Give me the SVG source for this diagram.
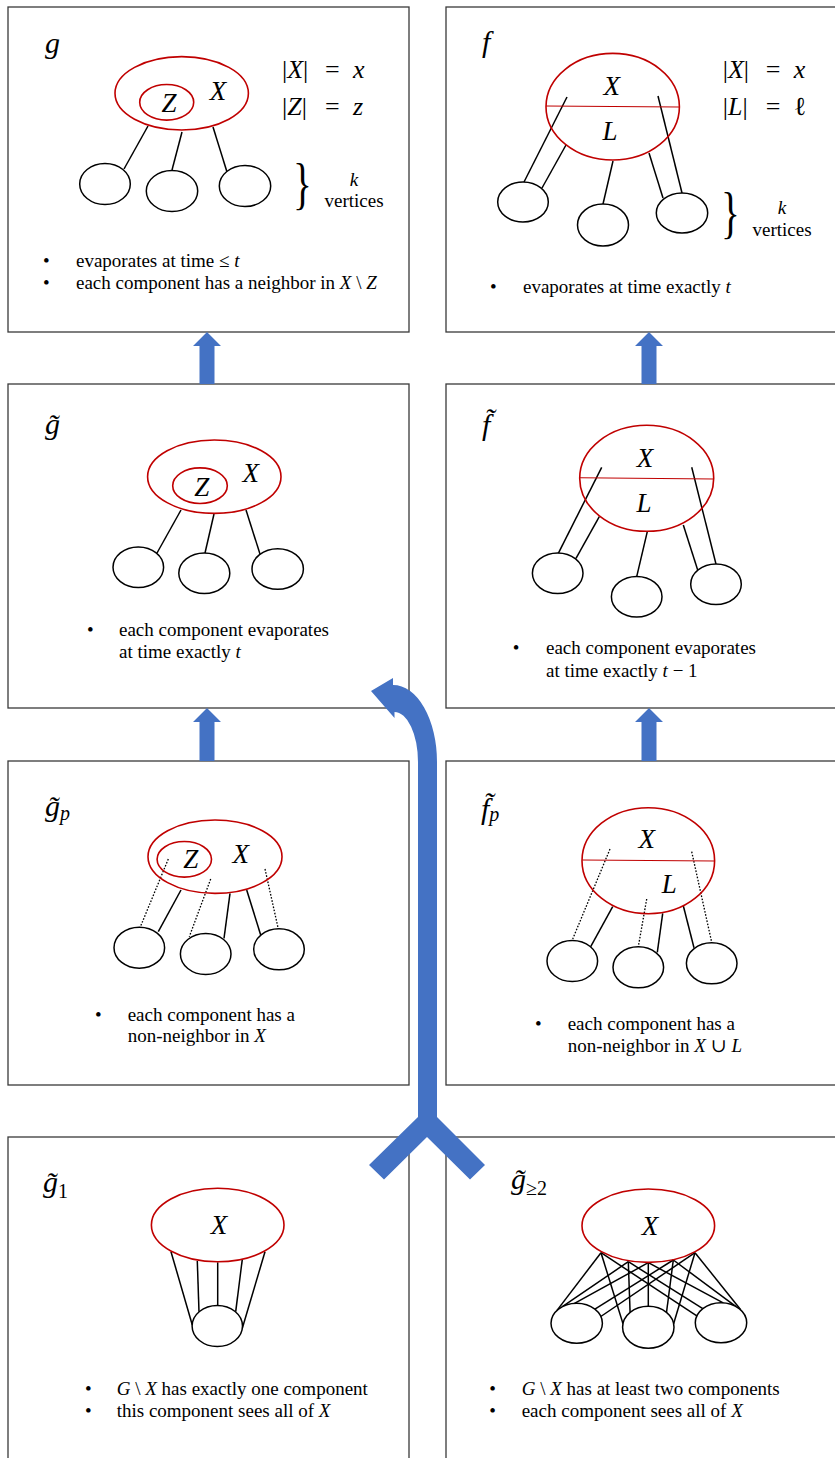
<svg xmlns="http://www.w3.org/2000/svg" width="835" height="1458" viewBox="0 0 835 1458">
<style>
.panel{fill:#fff;stroke:#3a3a3a;stroke-width:1.3}
.red{fill:none;stroke:#C00000;stroke-width:1.6}
.split{stroke:#C00000;stroke-width:1.1}
.comp{fill:#fff;stroke:#000;stroke-width:1.5}
.edge{stroke:#000;stroke-width:1.5;fill:none}
.dot{stroke:#000;stroke-width:1.3;stroke-dasharray:1.6 1.6;fill:none}
.m{font-family:"Liberation Serif","DejaVu Serif",serif;font-style:italic;font-size:27px;fill:#000}
.lab{font-family:"Liberation Serif","DejaVu Serif",serif;font-style:italic;font-size:30px;fill:#000}
.eq{font-family:"Liberation Serif","DejaVu Serif",serif;font-size:26px;fill:#000}
.b{font-family:"Liberation Serif","DejaVu Serif",serif;font-size:19px;fill:#000}
.i{font-style:italic}
.up{font-style:normal}
.sub{font-family:"Liberation Serif","DejaVu Serif",serif;font-size:20px;fill:#000}
.brace{font-family:"Liberation Serif","DejaVu Serif",serif;font-size:56px;fill:#000}
.arrow{fill:#4472C4}
</style>

<g id="panel-g">
<rect class="panel" x="8" y="7" width="401" height="325"/>
<text class="lab" x="45" y="53">g</text>
<line class="edge" x1="148" y1="126" x2="124" y2="169"/>
<line class="edge" x1="182" y1="132" x2="172" y2="170"/>
<line class="edge" x1="213" y1="127" x2="227" y2="172"/>
<ellipse class="red" cx="181.7" cy="93.3" rx="66.7" ry="36.7"/>
<ellipse class="red" cx="166.7" cy="102.3" rx="27" ry="17.8"/>
<text class="m" x="169" y="112" text-anchor="middle">Z</text>
<text class="m" x="218" y="100" text-anchor="middle">X</text>
<ellipse class="comp" cx="105" cy="184" rx="25.3" ry="20.5"/>
<ellipse class="comp" cx="172" cy="191" rx="25.7" ry="20.5"/>
<ellipse class="comp" cx="245" cy="186" rx="25.7" ry="20.5"/>
<text class="eq" y="78"><tspan x="282">|</tspan><tspan class="i">X</tspan><tspan>|</tspan><tspan x="325">=</tspan><tspan x="353" class="i">x</tspan></text>
<text class="eq" y="115"><tspan x="282">|</tspan><tspan class="i">Z</tspan><tspan>|</tspan><tspan x="325">=</tspan><tspan x="353" class="i">z</tspan></text>
<text class="brace" transform="translate(293,203) scale(0.7,1)">}</text>
<text class="b i" x="354" y="186" text-anchor="middle" font-size="18">k</text>
<text class="b" x="354" y="207" text-anchor="middle">vertices</text>
<text class="b" x="43" y="267">•</text>
<text class="b" x="76" y="267">evaporates at time ≤ <tspan class="i">t</tspan></text>
<text class="b" x="43" y="289">•</text>
<text class="b" x="76" y="289">each component has a neighbor in <tspan class="i">X</tspan> \ <tspan class="i">Z</tspan></text>
</g>

<g id="panel-f">
<rect class="panel" x="446" y="7" width="400" height="325"/>
<text class="lab" x="482" y="52">f</text>
<line class="edge" x1="567" y1="97" x2="524" y2="182"/>
<line class="edge" x1="566" y1="145" x2="542" y2="188"/>
<line class="edge" x1="613" y1="161" x2="603" y2="204"/>
<line class="edge" x1="658" y1="96" x2="682" y2="193"/>
<line class="edge" x1="649" y1="153" x2="663" y2="198"/>
<ellipse class="red" cx="612.7" cy="106.7" rx="66.7" ry="53.3"/>
<line class="split" x1="546" y1="106" x2="679" y2="107"/>
<text class="m" x="611.7" y="95" text-anchor="middle">X</text>
<text class="m" x="610" y="140" text-anchor="middle">L</text>
<ellipse class="comp" cx="523" cy="202" rx="25.3" ry="20"/>
<ellipse class="comp" cx="603" cy="225" rx="25.5" ry="21"/>
<ellipse class="comp" cx="682" cy="213" rx="25.7" ry="20"/>
<text class="eq" y="78"><tspan x="722.7">|</tspan><tspan class="i">X</tspan><tspan>|</tspan><tspan x="765.7">=</tspan><tspan x="793.7" class="i">x</tspan></text>
<text class="eq" y="115"><tspan x="722.7">|</tspan><tspan class="i">L</tspan><tspan>|</tspan><tspan x="765.7">=</tspan><tspan x="793.7">ℓ</tspan></text>
<text class="brace" transform="translate(721,232) scale(0.7,1)">}</text>
<text class="b i" x="782" y="214" text-anchor="middle" font-size="18">k</text>
<text class="b" x="782" y="236" text-anchor="middle">vertices</text>
<text class="b" x="490" y="293">•</text>
<text class="b" x="523" y="293">evaporates at time exactly <tspan class="i">t</tspan></text>
</g>

<g id="panel-g-tilde">
<rect class="panel" x="8" y="384" width="401" height="324"/>
<text class="lab" x="45" y="434">g̃</text>
<line class="edge" x1="181" y1="510" x2="157" y2="553"/>
<line class="edge" x1="214" y1="514" x2="205" y2="553"/>
<line class="edge" x1="246" y1="510" x2="260" y2="554"/>
<ellipse class="red" cx="214.3" cy="476.7" rx="66.7" ry="36.7"/>
<ellipse class="red" cx="200" cy="485.7" rx="27.3" ry="17.8"/>
<text class="m" x="201.7" y="496" text-anchor="middle">Z</text>
<text class="m" x="250.7" y="481.7" text-anchor="middle">X</text>
<ellipse class="comp" cx="138.3" cy="567.3" rx="25.3" ry="20.3"/>
<ellipse class="comp" cx="204.3" cy="573.3" rx="25.5" ry="20.3"/>
<ellipse class="comp" cx="277.7" cy="569" rx="25.7" ry="20.3"/>
<text class="b" x="87" y="636">•</text>
<text class="b" x="119" y="636">each component evaporates</text>
<text class="b" x="119" y="657.7">at time exactly <tspan class="i">t</tspan></text>
</g>

<g id="panel-f-tilde">
<rect class="panel" x="446" y="384" width="400" height="324"/>
<text class="lab" x="482" y="435">f̃</text>
<line class="edge" x1="601.7" y1="467.3" x2="558.3" y2="553.3"/>
<line class="edge" x1="599.3" y1="516.7" x2="576" y2="558.3"/>
<line class="edge" x1="647.3" y1="531.7" x2="636.7" y2="576.7"/>
<line class="edge" x1="691.7" y1="467.3" x2="716" y2="564"/>
<line class="edge" x1="683.3" y1="525" x2="697.7" y2="570"/>
<ellipse class="red" cx="646.7" cy="478.3" rx="67" ry="53"/>
<line class="split" x1="580" y1="477.7" x2="714" y2="479"/>
<text class="m" x="645" y="466.7" text-anchor="middle">X</text>
<text class="m" x="644" y="511.7" text-anchor="middle">L</text>
<ellipse class="comp" cx="557.7" cy="573.3" rx="25.3" ry="20.3"/>
<ellipse class="comp" cx="636.7" cy="596.7" rx="25.3" ry="20.3"/>
<ellipse class="comp" cx="716" cy="584.3" rx="25.3" ry="20.3"/>
<text class="b" x="512.7" y="654.3">•</text>
<text class="b" x="546" y="654.3">each component evaporates</text>
<text class="b" x="546" y="676.7">at time exactly <tspan class="i">t</tspan> − 1</text>
</g>

<g id="panel-g-p">
<rect class="panel" x="8" y="761" width="401" height="324"/>
<text class="lab" x="45" y="816">g̃<tspan class="sub i" dy="4">p</tspan></text>
<line class="dot" x1="168.3" y1="859" x2="140" y2="927.7"/>
<line class="dot" x1="210.7" y1="879" x2="189.3" y2="936.7"/>
<line class="dot" x1="265" y1="869" x2="278.3" y2="929"/>
<line class="edge" x1="181" y1="890" x2="158.3" y2="931.7"/>
<line class="edge" x1="230" y1="893.3" x2="224" y2="938.3"/>
<line class="edge" x1="246.7" y1="890" x2="260.7" y2="935"/>
<ellipse class="red" cx="215" cy="856.7" rx="67" ry="36.7"/>
<ellipse class="red" cx="184.3" cy="859.3" rx="27.2" ry="17.8"/>
<text class="m" x="190.7" y="868.3" text-anchor="middle">Z</text>
<text class="m" x="240.7" y="863.3" text-anchor="middle">X</text>
<ellipse class="comp" cx="139.3" cy="947.7" rx="25.3" ry="20.5"/>
<ellipse class="comp" cx="205.7" cy="954" rx="25.3" ry="20.5"/>
<ellipse class="comp" cx="279" cy="949.3" rx="25.3" ry="20.5"/>
<text class="b" x="95" y="1020.7">•</text>
<text class="b" x="127.7" y="1020.7">each component has a</text>
<text class="b" x="127.7" y="1042.3">non-neighbor in <tspan class="i">X</tspan></text>
</g>

<g id="panel-f-p">
<rect class="panel" x="446" y="761" width="400" height="324"/>
<text class="lab" x="481" y="819">f̃<tspan class="sub i" dy="2">p</tspan></text>
<line class="dot" x1="610" y1="849" x2="572.7" y2="939"/>
<line class="dot" x1="646.7" y1="899" x2="638.3" y2="946.7"/>
<line class="dot" x1="691.7" y1="851.7" x2="711.7" y2="942.3"/>
<line class="edge" x1="612.7" y1="906.7" x2="590.7" y2="946.7"/>
<line class="edge" x1="662.7" y1="913.3" x2="657.3" y2="952.3"/>
<line class="edge" x1="683.3" y1="905.7" x2="694" y2="947.7"/>
<ellipse class="red" cx="648.3" cy="860.7" rx="66.3" ry="53"/>
<line class="split" x1="582.3" y1="860" x2="715" y2="861"/>
<text class="m" x="646.7" y="847.7" text-anchor="middle">X</text>
<text class="m" x="669.3" y="893.3" text-anchor="middle">L</text>
<ellipse class="comp" cx="572.3" cy="961" rx="25.3" ry="20.5"/>
<ellipse class="comp" cx="638.3" cy="967.3" rx="25.3" ry="20.5"/>
<ellipse class="comp" cx="711.7" cy="963.3" rx="25.3" ry="20.5"/>
<text class="b" x="535" y="1030">•</text>
<text class="b" x="567.7" y="1030">each component has a</text>
<text class="b" x="567.7" y="1051.7">non-neighbor in <tspan class="i">X</tspan> ∪ <tspan class="i">L</tspan></text>
</g>

<g id="panel-g-1">
<rect class="panel" x="8" y="1137" width="401" height="340"/>
<text class="lab" x="43" y="1192">g̃<tspan class="sub up" dy="6">1</tspan></text>
<line class="edge" x1="171" y1="1251.7" x2="192.3" y2="1325"/>
<line class="edge" x1="197.3" y1="1261" x2="199" y2="1311.7"/>
<line class="edge" x1="217.7" y1="1262.3" x2="217.7" y2="1305.7"/>
<line class="edge" x1="242.3" y1="1259.3" x2="235.7" y2="1311.7"/>
<line class="edge" x1="265" y1="1251.7" x2="242.3" y2="1328.3"/>
<ellipse class="red" cx="217.7" cy="1225" rx="66.3" ry="36.7"/>
<text class="m" x="219" y="1234" text-anchor="middle">X</text>
<ellipse class="comp" cx="217.3" cy="1326" rx="25.2" ry="20.5"/>
<text class="b" x="85" y="1395">•</text>
<text class="b" x="116.7" y="1395"><tspan class="i">G</tspan> \ <tspan class="i">X</tspan> has exactly one component</text>
<text class="b" x="85" y="1416.7">•</text>
<text class="b" x="116.7" y="1416.7">this component sees all of <tspan class="i">X</tspan></text>
</g>

<g id="panel-g-ge2">
<rect class="panel" x="446" y="1137" width="400" height="340"/>
<text class="lab" x="511" y="1189">g̃<tspan class="sub up" dy="6" font-size="18">≥2</tspan></text>
<g class="edge">
<line x1="601" y1="1252.7" x2="557" y2="1310.4"/>
<line x1="628.3" y1="1261.7" x2="562" y2="1306.9"/>
<line x1="648.3" y1="1262.7" x2="574.5" y2="1303.4"/>
<line x1="673.3" y1="1260" x2="594.9" y2="1309.2"/>
<line x1="695" y1="1252.7" x2="600.8" y2="1316.5"/>
<line x1="601" y1="1252.7" x2="623" y2="1323.7"/>
<line x1="628.3" y1="1261.7" x2="630.1" y2="1312.5"/>
<line x1="648.3" y1="1262.7" x2="648.3" y2="1306.3"/>
<line x1="673.3" y1="1260" x2="666.5" y2="1312.5"/>
<line x1="695" y1="1252.7" x2="673.6" y2="1323.7"/>
<line x1="601" y1="1252.7" x2="696.8" y2="1315.9"/>
<line x1="628.3" y1="1261.7" x2="702.8" y2="1308.6"/>
<line x1="648.3" y1="1262.7" x2="723.2" y2="1302.8"/>
<line x1="673.3" y1="1260" x2="735.7" y2="1306.3"/>
<line x1="695" y1="1252.7" x2="740.7" y2="1309.8"/>
</g>
<ellipse class="red" cx="648.3" cy="1225.7" rx="66.3" ry="36.7"/>
<text class="m" x="650" y="1235" text-anchor="middle">X</text>
<ellipse class="comp" cx="576.7" cy="1323.3" rx="25.7" ry="20"/>
<ellipse class="comp" cx="648.3" cy="1327.3" rx="25.7" ry="21"/>
<ellipse class="comp" cx="721" cy="1322.7" rx="25.7" ry="20"/>
<text class="b" x="489.3" y="1395">•</text>
<text class="b" x="521.7" y="1395"><tspan class="i">G</tspan> \ <tspan class="i">X</tspan> has at least two components</text>
<text class="b" x="489.3" y="1416.7">•</text>
<text class="b" x="521.7" y="1416.7">each component sees all of <tspan class="i">X</tspan></text>
</g>

<g id="connectors">
<polygon class="arrow" points="207,332 221,346 214.5,346 214.5,384 199.5,384 199.5,346 193,346"/>
<polygon class="arrow" points="649,332 663,346 656.5,346 656.5,384 641.5,384 641.5,346 635,346"/>
<polygon class="arrow" points="207,708 221,722 214.5,722 214.5,761 199.5,761 199.5,722 193,722"/>
<polygon class="arrow" points="649,708 663,722 656.5,722 656.5,761 641.5,761 641.5,722 635,722"/>
<path class="arrow" d="M418 1117 L369 1165 L384 1179.5 L427 1137 L470 1179.5 L485 1165 L437 1117 L437 762 A44 77 0 0 0 393 685 L393 678 L371 691 L394.5 718 L394.5 712 A23.5 50 0 0 1 418 762 Z"/>
</g>
</svg>
